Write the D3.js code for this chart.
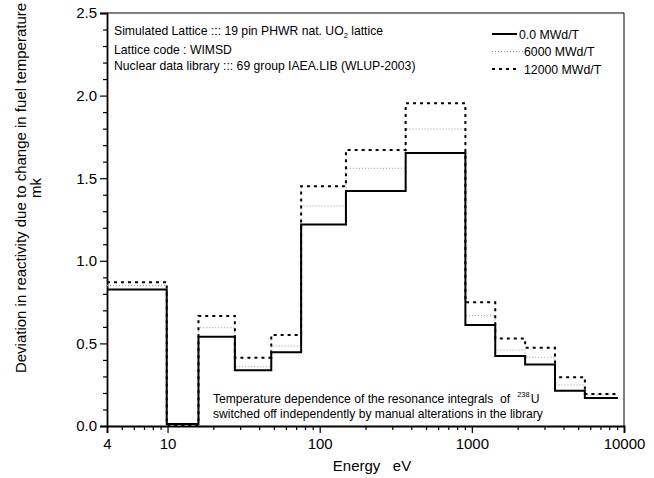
<!DOCTYPE html>
<html>
<head>
<meta charset="utf-8">
<script src="https://cdn.jsdelivr.net/npm/d3@7"></script>
<style>
  html, body { margin: 0; padding: 0; background: #fff; }
  svg { display: block; font-family: "Liberation Sans", Arial, sans-serif; }
  .pre { white-space: pre; }
</style>
</head>
<body>
<svg id="chart" width="654" height="478"></svg>
<script>
// WIMS 69-group resonance energy boundaries (eV), groups 27 .. 15
const energyEdges = [4, 9.877, 15.968, 27.7, 48.052, 75.501, 148.73, 367.26, 906.9, 1425.1, 2239.45, 3519.1, 5530, 9118];
// deviation in reactivity (mk) per group
const burnup0 = [0.827, 0.012, 0.54, 0.337, 0.446, 1.219, 1.423, 1.653, 0.611, 0.424, 0.373, 0.214, 0.17];
const burnup6000 = [0.85, 0.006, 0.595, 0.359, 0.484, 1.332, 1.56, 1.798, 0.668, 0.46, 0.416, 0.248, 0.188];
const burnup12000 = [0.87, 0.006, 0.666, 0.413, 0.551, 1.451, 1.671, 1.953, 0.749, 0.529, 0.474, 0.295, 0.194];
const seriesNames = ["0.0 MWd/T", "6000 MWd/T", "12000 MWd/T"];
const xTickValues = [4, 10, 100, 1000, 10000];
const yTickValues = [0, 0.5, 1.0, 1.5, 2.0, 2.5];

const svg = d3.select("#chart");
const m = { left: 107, right: 624, top: 13, bottom: 426 };

const x = d3.scaleLog().domain([4, 10000]).range([m.left, m.right]);
const y = d3.scaleLinear().domain([0, 2.5]).range([m.bottom, m.top]);

// frame (top and right)
svg.append("path")
  .attr("d", `M${m.left},${m.top}H${m.right}V${m.bottom}`)
  .attr("fill", "none").attr("stroke", "#000").attr("stroke-width", 1);

// x axis: major ticks + minor ticks
const xMinor = [];
for (let dec = 1; dec <= 1000; dec *= 10) {
  for (let k = 1; k <= 9; k++) {
    const v = k * dec;
    if (v > 4 && v < 10000 && !xTickValues.includes(v)) xMinor.push(v);
  }
}
svg.append("g").attr("transform", `translate(0,${m.bottom})`)
  .call(d3.axisBottom(x).tickValues(xTickValues).tickFormat(d3.format("d")).tickSize(7).tickPadding(5));
svg.append("g").attr("transform", `translate(0,${m.bottom})`)
  .call(d3.axisBottom(x).tickValues(xMinor).tickFormat("").tickSize(4))
  .call((g) => g.select(".domain").remove());

const yMinor = d3.range(1, 25).map((d) => d / 10).filter((d) => Math.round(d * 10) % 5 !== 0);
svg.append("g").attr("transform", `translate(${m.left},0)`)
  .call(d3.axisLeft(y).tickValues(yTickValues).tickFormat(d3.format(".1f")).tickSize(7).tickPadding(3));
svg.append("g").attr("transform", `translate(${m.left},0)`)
  .call(d3.axisLeft(y).tickValues(yMinor).tickFormat("").tickSize(4))
  .call((g) => g.select(".domain").remove());

svg.selectAll(".tick line").attr("stroke", "#000").attr("stroke-width", 1.2);
svg.selectAll(".domain").attr("stroke", "#000").attr("stroke-width", 1.8);
svg.selectAll(".tick text").attr("fill", "#000").attr("font-size", 15).attr("font-family", "Liberation Sans, Arial, sans-serif");

// step lines
const stepLine = d3.line().x((d) => x(d[0])).y((d) => y(d[1])).curve(d3.curveStepAfter);
function stepPoints(values) {
  const pts = values.map((v, i) => [energyEdges[i], v]);
  pts.push([energyEdges[energyEdges.length - 1], values[values.length - 1]]);
  return pts;
}
const styles = [
  { values: burnup6000, stroke: "#999", width: 1, dash: "1,2" },
  { values: burnup12000, stroke: "#000", width: 2, dash: "3,4" },
  { values: burnup0, stroke: "#000", width: 2, dash: null }
];
styles.forEach((s) => {
  svg.append("path").attr("d", stepLine(stepPoints(s.values)))
    .attr("fill", "none").attr("stroke", s.stroke).attr("stroke-width", s.width)
    .attr("stroke-dasharray", s.dash);
});

// legend
const legendRows = [
  { name: seriesNames[0], stroke: "#000", width: 2, dash: null, x2: 517, tx: 519, y: 34 },
  { name: seriesNames[1], stroke: "#999", width: 1, dash: "1,2", x2: 523, tx: 524, y: 51.5 },
  { name: seriesNames[2], stroke: "#000", width: 2, dash: "3,4", x2: 517, tx: 524, y: 69 }
];
const legend = svg.append("g");
legendRows.forEach((r) => {
  legend.append("line").attr("x1", 492).attr("x2", r.x2).attr("y1", r.y).attr("y2", r.y)
    .attr("stroke", r.stroke).attr("stroke-width", r.width).attr("stroke-dasharray", r.dash);
  legend.append("text").attr("x", r.tx).attr("y", r.y + 4.5).attr("font-size", 12.3).text(r.name);
});

// info text, top left
const info = svg.append("g").attr("font-size", 12.2);
const t1 = info.append("text").attr("x", 114).attr("y", 35);
t1.append("tspan").text("Simulated Lattice ::: 19 pin PHWR nat. UO");
t1.append("tspan").attr("font-size", 7.5).attr("dy", 3).text("2");
t1.append("tspan").attr("dy", -3).text(" lattice");
info.append("text").attr("x", 114).attr("y", 54).text("Lattice code : WIMSD");
info.append("text").attr("x", 114).attr("y", 69.5).text("Nuclear data library ::: 69 group IAEA.LIB (WLUP-2003)");

// note, bottom
const note = svg.append("g").attr("font-size", 12.1);
const n1 = note.append("text").attr("class", "pre").attr("x", 213).attr("y", 402.5);
n1.append("tspan").text("Temperature dependence of the resonance integrals  of");
n1.append("tspan").attr("font-size", 7.5).attr("dx", 7).attr("dy", -5.5).text("238");
n1.append("tspan").attr("dx", 1).attr("dy", 5.5).text("U");
note.append("text").attr("x", 213).attr("y", 418).text("switched off independently by manual alterations in the library");

// axis titles
svg.append("text").attr("class", "pre").attr("x", 372).attr("y", 471)
  .attr("text-anchor", "middle").attr("font-size", 15)
  .text("Energy   eV");
svg.append("text").attr("transform", "translate(26,188) rotate(-90)")
  .attr("text-anchor", "middle").attr("font-size", 15)
  .text("Deviation in reactivity due to change in fuel temperature");
svg.append("text").attr("transform", "translate(41,188) rotate(-90)")
  .attr("text-anchor", "middle").attr("font-size", 15)
  .text("mk");
</script>
</body>
</html>
